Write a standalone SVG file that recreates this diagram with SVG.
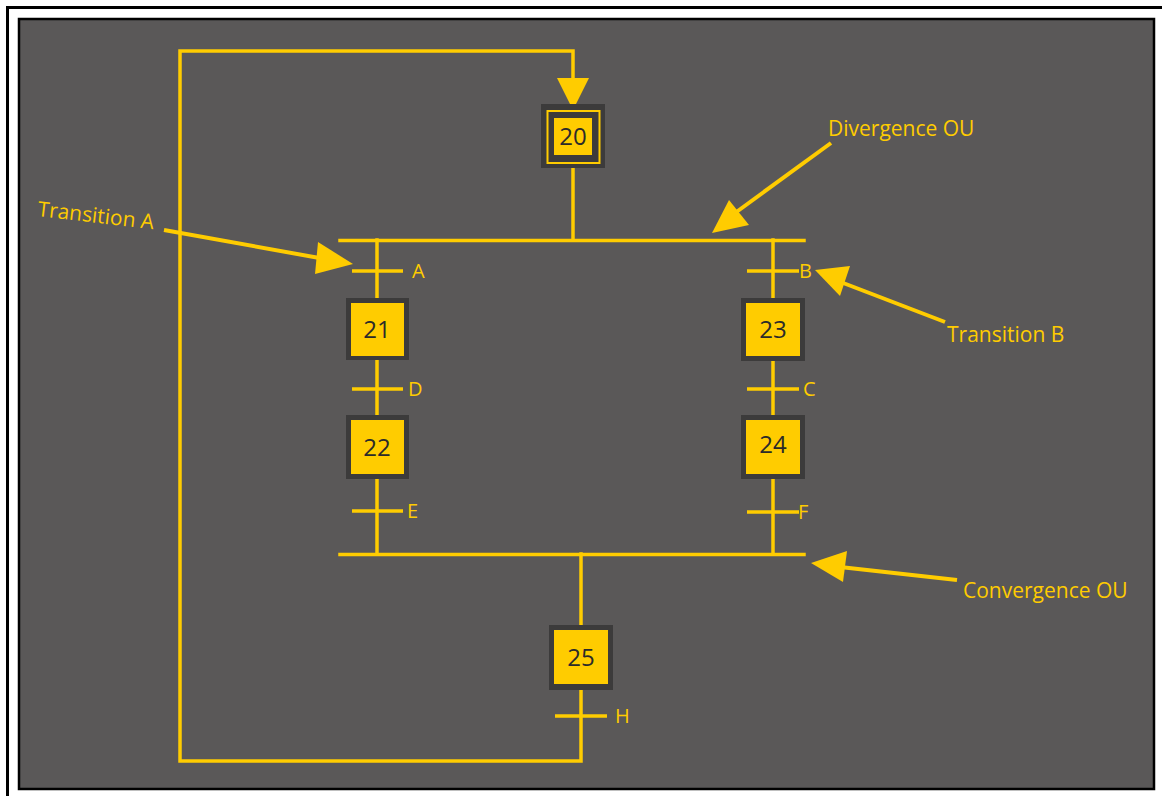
<svg xmlns="http://www.w3.org/2000/svg" width="1162" height="796" viewBox="0 0 1162 796">
  <defs>
    <style>
      .wire { stroke: #ffcc00; stroke-width: 3.5; fill: none; stroke-linecap: square; }
      .tick { stroke: #ffcc00; stroke-width: 3.5; fill: none; }
      .lead { stroke: #ffcc00; stroke-width: 4; fill: none; }
      .head { fill: #ffcc00; }
      .frame { fill: #3c3b3b; }
      .cell { fill: #ffcc00; }
      .num { font-family: "Open Sans", "Noto Sans", sans-serif; font-size: 24px; fill: #2b2a2a; text-anchor: middle; }
      .tl { font-family: "Open Sans", "Noto Sans", sans-serif; font-size: 20px; fill: #ffcc00; }
      .note { font-family: "Open Sans", "Noto Sans", sans-serif; font-size: 21px; fill: #ffcc00; }
    </style>
  </defs>

  <!-- page background and frames -->
  <rect x="0" y="0" width="1162" height="796" fill="#ffffff"/>
  <rect x="7.5" y="7.5" width="1160" height="800" fill="none" stroke="#000" stroke-width="3"/>
  <rect x="19" y="19" width="1135" height="770" fill="#5a5858" stroke="#000" stroke-width="2.5"/>

  <!-- connectors -->
  <g id="connectors">
    <!-- loop back from 25 to 20 -->
    <polyline class="wire" points="581,690 581,761 180,761 180,51 573,51 573,80"/>
    <polygon class="head" points="557,78 589,78 573,110"/>
    <!-- 20 down to divergence -->
    <line class="wire" x1="573" y1="168" x2="573" y2="240"/>
    <!-- divergence bar -->
    <line class="wire" x1="340" y1="240.5" x2="804" y2="240.5" stroke-linecap="butt"/>
    <!-- left branch -->
    <line class="wire" x1="377" y1="240" x2="377" y2="298"/>
    <line class="wire" x1="377" y1="360" x2="377" y2="415"/>
    <line class="wire" x1="377" y1="479" x2="377" y2="554"/>
    <!-- right branch -->
    <line class="wire" x1="773" y1="240" x2="773" y2="298"/>
    <line class="wire" x1="773" y1="361" x2="773" y2="415"/>
    <line class="wire" x1="773" y1="479" x2="773" y2="554"/>
    <!-- convergence bar -->
    <line class="wire" x1="340" y1="554.5" x2="804" y2="554.5" stroke-linecap="butt"/>
    <line class="wire" x1="581" y1="554" x2="581" y2="625"/>

    <!-- transition marks -->
    <line class="tick" x1="352" y1="271" x2="403" y2="271"/>
    <line class="tick" x1="747" y1="271" x2="799" y2="271"/>
    <line class="tick" x1="352" y1="389" x2="403" y2="389"/>
    <line class="tick" x1="747" y1="389" x2="799" y2="389"/>
    <line class="tick" x1="352" y1="511" x2="403" y2="511"/>
    <line class="tick" x1="747" y1="512" x2="799" y2="512"/>
    <line class="tick" x1="555" y1="716" x2="607" y2="716"/>

    <!-- callout arrows -->
    <line class="lead" x1="164" y1="230" x2="325" y2="259"/>
    <polygon class="head" points="318,242 353,264 315,274"/>
    <line class="lead" x1="831" y1="143" x2="735" y2="213"/>
    <polygon class="head" points="729,200 749,225 712,233"/>
    <line class="lead" x1="945" y1="322" x2="838" y2="281"/>
    <polygon class="head" points="815,270 850,266 840,296"/>
    <line class="lead" x1="957" y1="580" x2="840" y2="567"/>
    <polygon class="head" points="811,563 847,551 843,582"/>
  </g>

  <!-- transition labels -->
  <g id="transition-labels">
    <text class="tl" x="412" y="278">A</text>
    <text class="tl" x="799" y="278">B</text>
    <text class="tl" x="408" y="396">D</text>
    <text class="tl" x="803" y="396">C</text>
    <text class="tl" x="407" y="518">E</text>
    <text class="tl" x="798" y="519">F</text>
    <text class="tl" x="615" y="723">H</text>
  </g>

  <!-- steps -->
  <g id="step-20">
    <rect class="frame" x="541" y="104" width="64" height="64"/>
    <rect x="547.5" y="111" width="52" height="52" fill="none" stroke="#ffcc00" stroke-width="2"/>
    <rect class="cell" x="554" y="118" width="38" height="37"/>
    <text class="num" x="573" y="145">20</text>
  </g>
  <g id="step-21">
    <rect class="frame" x="346" y="298" width="63" height="62"/>
    <rect class="cell" x="351" y="303" width="53" height="53"/>
    <text class="num" x="377" y="338">21</text>
  </g>
  <g id="step-22">
    <rect class="frame" x="346" y="415" width="63" height="64"/>
    <rect class="cell" x="351" y="420" width="53" height="54"/>
    <text class="num" x="377" y="456">22</text>
  </g>
  <g id="step-23">
    <rect class="frame" x="741" y="298" width="64" height="63"/>
    <rect class="cell" x="746" y="303" width="54" height="53"/>
    <text class="num" x="773" y="338">23</text>
  </g>
  <g id="step-24">
    <rect class="frame" x="741" y="415" width="64" height="64"/>
    <rect class="cell" x="746" y="420" width="54" height="54"/>
    <text class="num" x="773" y="453">24</text>
  </g>
  <g id="step-25">
    <rect class="frame" x="549" y="625" width="64" height="65"/>
    <rect class="cell" x="554" y="630" width="54" height="54"/>
    <text class="num" x="581" y="666">25</text>
  </g>

  <!-- annotations -->
  <g id="annotations">
    <text class="note" x="37" y="216" transform="rotate(6.5 37 216)">Transition A</text>
    <text class="note" x="828" y="136">Divergence OU</text>
    <text class="note" x="947" y="342">Transition B</text>
    <text class="note" x="963" y="598">Convergence OU</text>
  </g>
</svg>
